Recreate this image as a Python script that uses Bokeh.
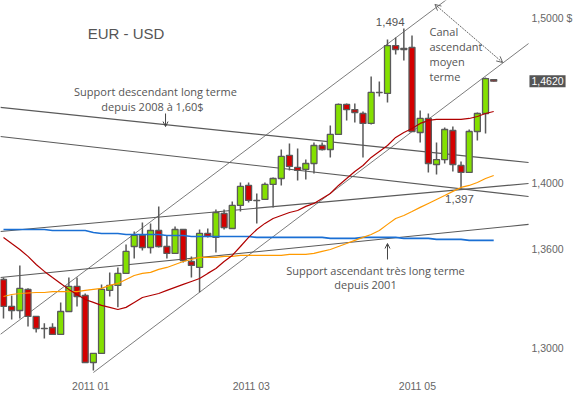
import pandas as pd
from bokeh.plotting import figure
from bokeh.models import (Range1d, FixedTicker, Label, Arrow, OpenHead,
                          CustomJSTickFormatter, ColumnDataSource)
from bokeh.embed import file_html
from bokeh.resources import INLINE

# ---------------- data ----------------
dates = pd.date_range("2010-11-30", periods=61, freq="3D")

opens = [1.3418, 1.3255, 1.3230, 1.3358, 1.3194, 1.3121, 1.3127, 1.3085, 1.3224, 1.3376,
         1.3321, 1.2915, 1.2970, 1.3352, 1.3382, 1.3455, 1.3618, 1.3685, 1.3612, 1.3715,
         1.3618, 1.3576, 1.3721, 1.3527, 1.3491, 1.3697, 1.3673, 1.3818, 1.3727, 1.3867,
         1.3988, 1.3897, 1.3903, 1.3994, 1.4030, 1.4170, 1.4097, 1.4085, 1.4121, 1.4230,
         1.4206, 1.4297, 1.4479, 1.4448, 1.4424, 1.4364, 1.4552, 1.4546, 1.4836, 1.4812,
         1.4824, 1.4309, 1.4394, 1.4115, 1.4145, 1.4321, 1.4109, 1.4067, 1.4315, 1.4424,
         1.4630]
closes = [1.3255, 1.3230, 1.3364, 1.3194, 1.3121, 1.3120, 1.3085, 1.3224, 1.3376, 1.3315,
          1.2915, 1.2970, 1.3358, 1.3382, 1.3455, 1.3588, 1.3685, 1.3612, 1.3715, 1.3618,
          1.3576, 1.3721, 1.3533, 1.3503, 1.3697, 1.3679, 1.3824, 1.3733, 1.3867, 1.3982,
          1.3897, 1.3896, 1.3994, 1.4030, 1.4164, 1.4103, 1.4079, 1.4121, 1.4230, 1.4206,
          1.4297, 1.4479, 1.4448, 1.4430, 1.4364, 1.4552, 1.4551, 1.4836, 1.4812, 1.4818,
          1.4315, 1.4394, 1.4121, 1.4145, 1.4327, 1.4115, 1.4067, 1.4315, 1.4424, 1.4636,
          1.4620]
highs = [1.3430, 1.3321, 1.3503, 1.3365, 1.3196, 1.3152, 1.3152, 1.3279, 1.3430, 1.3430,
         1.3333, 1.2970, 1.3388, 1.3461, 1.3491, 1.3630, 1.3709, 1.3764, 1.3758, 1.3861,
         1.3685, 1.3739, 1.3723, 1.3558, 1.3721, 1.3727, 1.3842, 1.3842, 1.3891, 1.4006,
         1.4006, 1.3939, 1.4006, 1.4036, 1.4206, 1.4242, 1.4212, 1.4145, 1.4248, 1.4248,
         1.4352, 1.4485, 1.4485, 1.4485, 1.4436, 1.4648, 1.4618, 1.4873, 1.4885, 1.4940,
         1.4897, 1.4442, 1.4424, 1.4248, 1.4339, 1.4345, 1.4133, 1.4327, 1.4430, 1.4642,
         1.4632]
lows = [1.3182, 1.3176, 1.3182, 1.3133, 1.3097, 1.3061, 1.3085, 1.3085, 1.3224, 1.3255,
        1.2915, 1.2867, 1.2970, 1.3315, 1.3249, 1.3455, 1.3545, 1.3594, 1.3576, 1.3612,
        1.3545, 1.3576, 1.3521, 1.3430, 1.3340, 1.3673, 1.3582, 1.3721, 1.3727, 1.3830,
        1.3885, 1.3758, 1.3903, 1.3855, 1.3988, 1.4079, 1.4018, 1.4024, 1.4061, 1.4200,
        1.4158, 1.4297, 1.4382, 1.4370, 1.4158, 1.4358, 1.4527, 1.4491, 1.4782, 1.4745,
        1.4315, 1.4248, 1.4067, 1.4055, 1.4121, 1.4073, 1.3970, 1.4067, 1.4261, 1.4303,
        1.4618]

ma_red = [1.3673, 1.3636, 1.3600, 1.3558, 1.3509, 1.3467, 1.3430, 1.3394, 1.3358, 1.3327,
          1.3297, 1.3279, 1.3261, 1.3249, 1.3236, 1.3249, 1.3279, 1.3309, 1.3321, 1.3333,
          1.3352, 1.3370, 1.3388, 1.3406, 1.3424, 1.3455, 1.3485, 1.3527, 1.3564, 1.3618,
          1.3673, 1.3721, 1.3758, 1.3788, 1.3806, 1.3824, 1.3836, 1.3861, 1.3879, 1.3909,
          1.3939, 1.3988, 1.4030, 1.4073, 1.4109, 1.4158, 1.4194, 1.4230, 1.4279, 1.4309,
          1.4333, 1.4364, 1.4382, 1.4388, 1.4388, 1.4388, 1.4388, 1.4394, 1.4406, 1.4424,
          1.4436]
ma_orange = [1.3315, 1.3327, 1.3333, 1.3336, 1.3339, 1.3339, 1.3345, 1.3345, 1.3345, 1.3345,
             1.3352, 1.3358, 1.3364, 1.3382, 1.3394, 1.3418, 1.3442, 1.3455, 1.3461, 1.3479,
             1.3491, 1.3509, 1.3527, 1.3539, 1.3552, 1.3552, 1.3552, 1.3558, 1.3558, 1.3564,
             1.3564, 1.3564, 1.3564, 1.3564, 1.3564, 1.3570, 1.3570, 1.3570, 1.3576, 1.3588,
             1.3600, 1.3618, 1.3636, 1.3655, 1.3673, 1.3691, 1.3715, 1.3752, 1.3788, 1.3806,
             1.3830, 1.3855, 1.3879, 1.3903, 1.3927, 1.3952, 1.3976, 1.3988, 1.4006, 1.4030,
             1.4048]
ma_blue = [1.3721, 1.3721, 1.3721, 1.3721, 1.3721, 1.3721, 1.3715, 1.3715, 1.3715, 1.3715,
           1.3715, 1.3703, 1.3697, 1.3697, 1.3697, 1.3691, 1.3691, 1.3691, 1.3691, 1.3691,
           1.3685, 1.3685, 1.3685, 1.3679, 1.3679, 1.3679, 1.3679, 1.3679, 1.3679, 1.3679,
           1.3679, 1.3673, 1.3673, 1.3673, 1.3673, 1.3673, 1.3673, 1.3673, 1.3673, 1.3673,
           1.3667, 1.3667, 1.3667, 1.3667, 1.3673, 1.3673, 1.3673, 1.3673, 1.3673, 1.3667,
           1.3667, 1.3667, 1.3667, 1.3661, 1.3661, 1.3661, 1.3661, 1.3655, 1.3655, 1.3655,
           1.3655]

# trend lines: endpoints (dates, prices)
LINE_END = "2011-06-10T19:00"
chan_top_dates = ["2010-11-28T20:00", LINE_END]
chan_top_prices = [1.3085, 1.5487]
chan_bot_dates = ["2011-01-02", LINE_END]
chan_bot_prices = [1.2854, 1.4848]
desc_long_dates = ["2010-11-28T20:00", LINE_END]
desc_long_prices = [1.4461, 1.4127]
desc_2_dates = ["2010-11-28T20:00", LINE_END]
desc_2_prices = [1.4285, 1.3921]
asc_1_dates = ["2010-11-28T20:00", LINE_END]
asc_1_prices = [1.3709, 1.4000]
asc_long_dates = ["2010-11-28T20:00", LINE_END]
asc_long_prices = [1.3430, 1.3752]

y_ticks = [1.30, 1.36, 1.40, 1.50]
y_tick_labels = ["1,3000", "1,3600", "1,4000", "1,5000 $"]
x_tick_dates = ["2011-01-01", "2011-03-01", "2011-05-01"]
last_price = 1.4620
last_price_label = "1,4620"


def ms(t):
    return pd.Timestamp(t).value / 1e6


DAY = 86400000.0
x0 = ms(dates[0]) - 1.1 * DAY
x1 = ms(dates[0]) + 210.4 * DAY

p = figure(width=576, height=394, x_axis_type="datetime",
           x_range=Range1d(x0, x1), y_range=Range1d(1.2830, 1.5109),
           output_backend="svg", toolbar_location=None, y_axis_location=None,
           min_border_left=0, min_border_top=0, min_border_right=0, min_border_bottom=0)
p.outline_line_color = None
p.xgrid.visible = False
p.ygrid.visible = False
p.background_fill_color = "white"
p.border_fill_color = "white"

AX_FONT = "Liberation Sans"
AX_COL = "#666666"

xa = p.xaxis[0]
xa.ticker = FixedTicker(ticks=[ms(d) for d in x_tick_dates])
xa.formatter = CustomJSTickFormatter(code="""
    const d = new Date(tick);
    return d.getUTCFullYear() + ' ' + String(d.getUTCMonth() + 1).padStart(2, '0');""")
xa.axis_line_color = None
xa.major_tick_line_color = None
xa.minor_tick_line_color = None
xa.major_tick_out = 0
xa.major_tick_in = 0
xa.minor_tick_out = 0
xa.major_label_standoff = 3
xa.major_label_text_color = AX_COL
xa.major_label_text_font = AX_FONT
xa.major_label_text_font_size = "10.5px"

# trend lines
GREY = "#5a5a5a"
for dts, prs, w in [(chan_top_dates, chan_top_prices, 0.8),
                    (chan_bot_dates, chan_bot_prices, 0.8),
                    (desc_long_dates, desc_long_prices, 1.1),
                    (desc_2_dates, desc_2_prices, 1.1),
                    (asc_1_dates, asc_1_prices, 1.1),
                    (asc_long_dates, asc_long_prices, 1.1)]:
    p.line([ms(d) for d in dts], prs, line_color=GREY, line_width=w)

# candles
xs = [ms(d) for d in dates]
tops = [max(o, c) for o, c in zip(opens, closes)]
bots = [min(o, c) for o, c in zip(opens, closes)]
cols = ["#84e000" if c > o else ("#d40000" if c < o else "#5a5a5a") for o, c in zip(opens, closes)]
src = ColumnDataSource(dict(x=xs, high=highs, low=lows, top=tops, bottom=bots, color=cols))
p.segment(x0="x", y0="low", x1="x", y1="high", source=src, line_color=GREY, line_width=1.5)
p.vbar(x="x", width=2.2 * DAY, top="top", bottom="bottom", source=src,
       fill_color="color", line_color=GREY, line_width=1.3)

# moving averages
p.line(xs, ma_blue, line_color="#1a6fd4", line_width=1.6)
p.line(xs, ma_orange, line_color="#ff9a00", line_width=1.2)
p.line(xs, ma_red, line_color="#b00000", line_width=1.2)

# price scale labels (right side)
for tv, tl in zip(y_ticks, y_tick_labels):
    p.add_layout(Label(x=ms("2011-06-11T21:00"), y=tv, text=tl, text_align="left",
                       text_baseline="middle", text_font=AX_FONT, text_font_size="10.5px",
                       text_color=AX_COL))
p.add_layout(Label(x=ms("2011-06-11T03:00"), y=last_price, text=last_price_label,
                   text_align="left", text_baseline="middle", text_font=AX_FONT,
                   text_font_size="10.5px", text_color="white",
                   background_fill_color="#555555", padding=2))

# annotations
TXT = "#555555"
HAND = "Open Sans"


def lab(x, y, text, size="11px", font=HAND, align="center", color=TXT):
    p.add_layout(Label(x=ms(x), y=y, text=text, text_align=align, text_baseline="middle",
                       text_font=font, text_font_size=size, text_color=color))


lab("2011-01-14", 1.4909, "EUR - USD", size="15px", font="Liberation Sans")
lab("2011-01-24T19:00", 1.4558, "Support descendant long terme")
lab("2011-01-23T17:00", 1.4467, "depuis 2008 à 1,60$")
lab("2011-05-05T10:00", 1.4921, "Canal", align="left")
lab("2011-05-05T10:00", 1.4830, "ascendant", align="left")
lab("2011-05-05T10:00", 1.4739, "moyen", align="left")
lab("2011-05-05T10:00", 1.4648, "terme", align="left")
lab("2011-04-21", 1.4976, "1,494", size="11.5px", font="Liberation Sans")
lab("2011-05-16T10:00", 1.3903, "1,397", size="11.5px", font="Liberation Sans")
lab("2011-04-15T14:00", 1.3473, "Support ascendant très long terme")
lab("2011-04-11T22:00", 1.3388, "depuis 2001")

p.add_layout(Arrow(x_start=ms("2011-01-28T12:00"), y_start=1.4424,
                   x_end=ms("2011-01-28T12:00"), y_end=1.4345,
                   line_color="#444444", line_width=1,
                   end=OpenHead(size=5, line_color="#444444", line_width=1)))
p.add_layout(Arrow(x_start=ms("2011-04-20"), y_start=1.3539,
                   x_end=ms("2011-04-20"), y_end=1.3636,
                   line_color="#444444", line_width=1,
                   end=OpenHead(size=5, line_color="#444444", line_width=1)))
p.add_layout(Arrow(x_start=ms("2011-05-07T10:00"), y_start=1.5085,
                   x_end=ms("2011-06-01T07:00"), y_end=1.4733,
                   line_color="#666666", line_width=1, line_dash="2 1",
                   start=OpenHead(size=6, line_color="#666666", line_width=1),
                   end=OpenHead(size=6, line_color="#666666", line_width=1)))

open("out.html", "w").write(file_html(p, INLINE))
